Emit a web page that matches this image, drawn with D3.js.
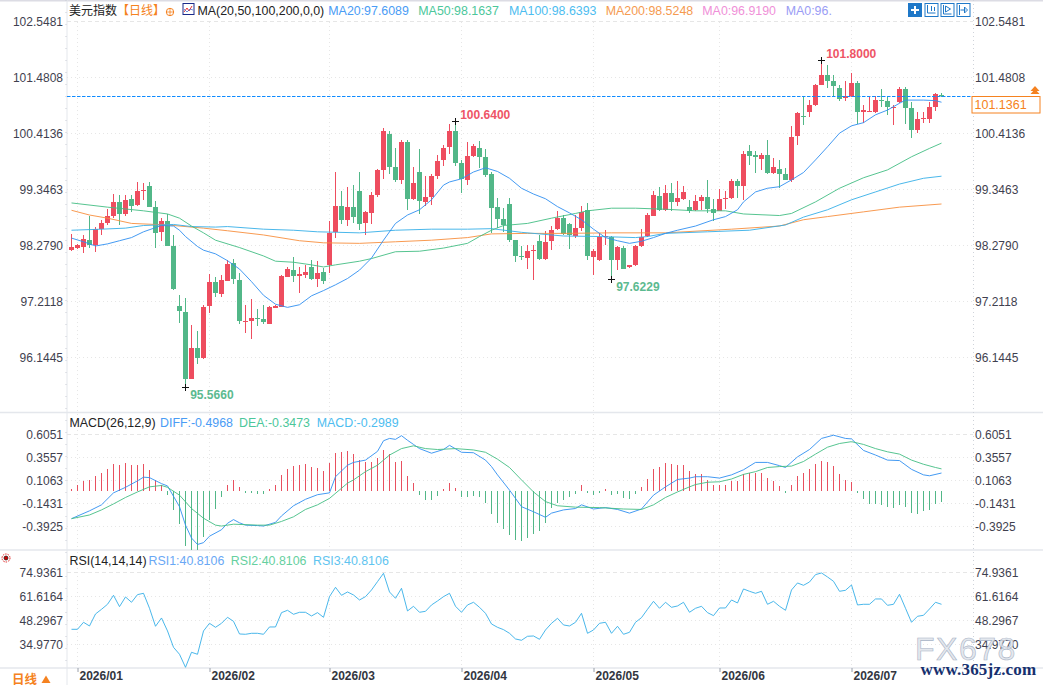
<!DOCTYPE html>
<html>
<head>
<meta charset="utf-8">
<script src="https://cdn.jsdelivr.net/npm/d3@7"></script>
<style>
  html, body { margin: 0; padding: 0; background: #fff; }
  svg { display: block; font-family: "Liberation Sans", "Noto Sans CJK SC", sans-serif; }
  .tick text { font-family: "Liberation Sans", sans-serif; font-size: 12px; fill: #3f3f4f; }
  .axis path.domain { display: none; }
</style>
</head>
<body>
<div id="chart"></div>
<script>
// Daily candles, one entry per trading day.
const highs = [
  98.50,98.30,98.48,98.85,98.63,98.77,98.97,99.26,99.24,99.24,
  99.24,99.49,99.47,99.49,99.13,98.80,98.88,98.48,97.34,97.28,
  96.76,96.65,97.15,97.74,97.68,97.72,98.00,98.02,97.75,97.15,
  97.26,97.07,97.15,97.13,97.15,97.72,97.87,98.06,97.87,97.91,
  98.00,97.98,97.85,98.75,99.68,99.32,99.39,99.43,99.68,98.94,
  99.30,99.74,100.52,100.46,100.14,100.29,100.29,99.78,100.12,99.60,
  99.64,100.00,100.19,100.59,100.64,99.91,100.25,100.21,100.27,100.12,
  99.68,99.18,98.99,99.18,98.38,98.27,98.29,98.29,98.48,98.55,
  98.65,98.94,98.86,98.71,98.86,99.03,99.09,98.21,98.52,98.57,
  98.46,98.27,98.27,97.91,98.29,98.59,98.90,99.32,99.39,99.43,
  99.47,99.51,99.41,99.15,99.24,99.24,99.53,99.17,99.36,99.32,
  99.55,99.55,100.08,100.19,100.08,100.04,100.29,99.95,99.91,99.76,
  100.56,100.82,101.13,101.05,101.36,101.80,101.72,101.53,101.34,101.41,
  101.57,101.41,100.96,101.13,101.13,101.26,101.11,100.96,101.30,101.30,
  101.01,100.82,100.82,101.01,101.19,101.19
];
const lows = [
  98.17,98.22,98.14,98.24,98.16,98.48,98.67,98.80,98.67,98.84,
  98.92,99.03,99.15,99.01,98.24,98.37,98.26,97.43,96.81,95.566,
  95.73,96.03,96.12,96.99,97.30,97.30,97.60,97.54,96.78,96.61,
  96.50,96.74,96.78,96.78,97.09,97.11,97.68,97.58,97.37,97.66,
  97.62,97.49,97.54,97.75,98.42,98.69,98.65,98.71,98.57,98.48,
  98.69,99.20,99.55,99.64,99.49,99.45,98.96,99.15,98.88,99.03,
  99.05,99.55,99.79,100.02,99.79,99.28,99.43,99.96,99.76,99.59,
  98.52,98.61,98.54,98.35,97.96,98.00,97.83,97.62,98.00,98.00,
  98.19,98.57,98.48,98.21,98.42,98.56,98.00,97.72,97.98,98.29,
  97.6229,97.81,97.83,97.85,97.89,98.25,98.44,98.84,98.94,98.94,
  98.94,99.03,99.15,98.90,98.94,98.96,98.90,98.75,98.94,98.98,
  99.17,99.18,99.15,99.81,99.66,99.72,99.64,99.64,99.37,99.53,
  99.49,100.19,100.58,100.73,100.94,101.34,101.28,101.11,101.03,101.03,
  101.11,100.59,100.61,100.82,100.80,100.92,100.77,100.58,100.99,100.59,
  100.33,100.42,100.61,100.61,100.84,101.11
];
const opens = [
  98.19,98.23,98.25,98.38,98.29,98.59,98.71,98.84,99.11,98.88,
  99.17,99.05,99.33,99.41,99.01,98.54,98.75,98.27,97.13,97.01,
  95.73,96.33,96.14,97.13,97.58,97.36,97.60,97.95,97.62,96.82,
  96.84,96.90,96.88,96.78,97.09,97.11,97.68,97.81,97.70,97.72,
  97.87,97.64,97.77,97.91,98.54,99.03,98.77,99.01,99.32,98.71,
  98.90,99.24,99.72,100.40,99.78,99.53,100.25,99.17,99.68,99.11,
  99.20,99.60,99.91,100.16,100.46,99.85,99.53,99.98,100.14,99.96,
  99.64,99.01,98.78,99.07,98.38,98.08,98.04,98.17,98.36,98.02,
  98.36,98.59,98.80,98.69,98.46,98.61,98.96,98.06,98.00,98.44,
  98.44,98.00,98.23,97.87,97.91,98.27,98.46,98.84,99.22,98.96,
  99.28,99.11,99.17,99.01,98.96,99.13,99.20,98.98,98.94,99.17,
  99.18,99.51,99.41,100.08,100.00,99.93,100.00,99.66,99.74,99.64,
  99.53,100.37,100.75,100.82,100.96,101.34,101.53,101.41,101.28,101.09,
  101.13,101.38,100.82,100.82,100.82,101.05,101.03,100.90,101.01,101.26,
  100.90,100.48,100.69,100.69,100.92,101.15
];
const closes = [
  98.25,98.29,98.40,98.29,98.59,98.71,98.84,99.11,98.88,99.15,
  99.03,99.32,99.34,99.02,98.52,98.75,98.26,97.45,97.04,95.73,
  96.33,96.14,97.11,97.58,97.38,97.62,97.93,97.64,96.84,96.84,
  96.90,96.88,96.82,97.11,97.13,97.70,97.83,97.70,97.74,97.77,
  97.64,97.75,97.60,98.52,99.03,98.77,99.01,98.82,98.69,98.92,
  99.24,99.72,100.46,99.78,99.53,100.25,99.17,99.47,99.13,99.20,
  99.60,99.89,100.14,100.46,99.85,99.55,99.98,100.17,99.96,99.62,
  98.99,98.78,98.67,98.38,98.08,98.06,98.17,98.19,98.02,98.35,
  98.57,98.80,98.50,98.48,98.61,98.92,98.08,98.17,98.44,98.46,
  98.00,98.25,97.83,97.91,98.27,98.44,98.86,99.24,98.96,99.28,
  99.11,99.18,99.30,98.94,99.13,99.20,98.98,98.90,99.17,99.18,
  99.51,99.41,100.02,99.98,99.96,100.00,99.66,99.78,99.64,99.53,
  100.35,100.80,100.73,100.96,101.34,101.53,101.41,101.32,101.07,101.13,
  101.38,100.82,100.86,100.84,101.05,101.03,100.92,100.92,101.26,100.90,
  100.48,100.69,100.71,100.92,101.17,101.13
];

const ma20Days = [0,2,4,6,8,10,12,14,15,17,18,19,21,22,24,26,28,30,32,34,36,38,40,42,44,46,48,50,52,54,56,58,60,62,63,65,67,69,71,73,75,77,79,81,83,85,87,89,91,93,95,97,99,101,104,107,109,111,112,114,116,118,120,122,124,126,128,130,132,134,136,138,139,142,144,145];
const ma20 = [98.42,98.35,98.27,98.31,98.37,98.43,98.54,98.62,98.66,98.65,98.57,98.45,98.26,98.19,98.12,97.99,97.83,97.59,97.33,97.16,97.10,97.15,97.32,97.42,97.53,97.65,97.81,98.04,98.38,98.70,98.86,98.96,99.15,99.43,99.49,99.55,99.68,99.76,99.69,99.56,99.37,99.26,99.17,99.02,98.90,98.77,98.59,98.43,98.37,98.32,98.36,98.43,98.51,98.57,98.65,98.77,98.83,98.96,99.11,99.30,99.37,99.40,99.53,99.67,99.91,100.16,100.42,100.56,100.62,100.77,100.86,100.99,101.05,101.05,101.04,101.01];
const ma50Days = [0,6,12,16,18,20,22,24,28,32,34,37,40,42,44,48,50,54,58,62,66,68,70,72,76,80,84,86,90,94,99,104,109,112,118,120,124,128,132,136,140,143,145];
const ma50 = [99.09,99.01,98.94,98.88,98.80,98.65,98.52,98.38,98.24,98.08,97.98,97.96,97.91,97.87,97.91,97.98,98.03,98.16,98.17,98.23,98.32,98.45,98.57,98.66,98.70,98.80,98.89,98.94,98.99,98.99,98.97,98.94,98.94,98.88,98.85,98.89,99.11,99.37,99.57,99.72,99.97,100.13,100.23];
const ma100Days = [0,5,9,12,17,20,24,26,32,37,41,48,54,60,66,70,75,82,88,94,96,99,106,113,119,122,126,130,134,138,142,145];
const ma100 = [98.57,98.59,98.61,98.66,98.68,98.64,98.63,98.64,98.59,98.57,98.54,98.52,98.57,98.59,98.59,98.60,98.53,98.46,98.45,98.43,98.45,98.51,98.54,98.57,98.67,98.82,98.96,99.15,99.30,99.45,99.56,99.60];
const ma200Days = [0,3,6,10,16,22,26,32,38,42,48,54,60,66,70,76,82,90,99,110,118,122,126,132,138,145];
const ma200 = [98.95,98.86,98.80,98.70,98.67,98.61,98.56,98.48,98.37,98.33,98.32,98.35,98.38,98.43,98.50,98.51,98.51,98.52,98.52,98.59,98.65,98.77,98.83,98.92,99.01,99.07];

// MACD panel
const macdHist = [
  .02,.06,.11,.12,.16,.20,.235,.29,.28,.30,
  .28,.285,.29,.225,.115,.07,-.04,-.21,-.36,-.60,
  -.64,-.64,-.50,-.315,-.195,-.07,.07,.115,.04,-.02,
  -.025,-.03,-.03,.025,.06,.17,.24,.27,.28,.29,
  .26,.245,.215,.30,.41,.42,.43,.40,.335,.315,
  .31,.355,.45,.40,.315,.325,.165,.085,-.04,-.10,
  -.10,-.05,.02,.085,.03,-.07,-.07,-.05,-.07,-.13,
  -.25,-.35,-.41,-.475,-.53,-.54,-.51,-.465,-.435,-.35,
  -.185,-.13,-.10,-.065,-.03,.06,-.02,-.04,-.02,.02,
  -.04,-.03,-.075,-.085,-.03,.04,.125,.235,.255,.30,
  .29,.28,.28,.215,.18,.18,.115,.07,.07,.06,
  .105,.105,.18,.20,.20,.19,.14,.105,.05,-.02,
  .07,.16,.20,.235,.29,.32,.31,.27,.18,.115,
  .095,-.02,-.085,-.14,-.14,-.15,-.175,-.185,-.15,-.175,
  -.24,-.25,-.215,-.205,-.14,-.12
];
const diffDays = [0,3,5,7,9,11,12,13,15,16,18,19,20,21,22,23,25,26,27,28,29,31,32,34,35,37,39,41,43,44,46,47,49,51,52,53,54,55,56,57,58,60,62,63,65,67,69,70,71,73,75,77,79,80,82,84,85,87,89,91,93,95,97,99,101,103,104,106,108,110,112,114,116,118,119,121,123,125,127,129,130,132,134,136,138,140,142,143,145];
const diffLine = [-.30,-.215,-.15,-.02,.04,.11,.15,.145,.08,.055,-.17,-.37,-.51,-.58,-.56,-.49,-.42,-.35,-.31,-.345,-.37,-.375,-.38,-.34,-.27,-.16,-.09,-.04,-.02,.155,.28,.31,.335,.43,.545,.57,.56,.60,.55,.505,.46,.41,.45,.495,.42,.415,.335,.265,.175,.01,-.17,-.225,-.285,-.24,-.205,-.19,-.15,-.195,-.18,-.20,-.24,-.195,-.045,.045,.125,.14,.155,.155,.14,.175,.23,.31,.31,.275,.255,.37,.45,.57,.605,.57,.565,.44,.39,.335,.33,.235,.175,.165,.195];
const deaDays = [0,3,5,7,9,11,13,15,16,18,20,22,24,25,27,31,33,35,37,39,41,43,45,46,47,49,51,53,55,57,59,61,64,67,69,71,73,75,77,79,81,84,88,92,95,97,99,101,103,104,106,108,110,112,114,116,118,120,122,124,126,128,130,132,134,136,138,140,142,144,145];
const deaLine = [-.30,-.26,-.205,-.14,-.07,-.01,.045,.06,.04,-.045,-.19,-.295,-.37,-.38,-.36,-.37,-.37,-.33,-.28,-.20,-.15,-.08,.03,.085,.12,.21,.28,.39,.46,.49,.46,.45,.46,.445,.42,.345,.255,.12,-.01,-.115,-.16,-.175,-.18,-.195,-.20,-.15,-.07,-.01,.045,.07,.095,.10,.13,.18,.21,.255,.265,.27,.32,.40,.475,.515,.535,.505,.46,.425,.40,.335,.29,.255,.24];

// RSI panel
const rsiLine = [
  43.30,43.30,47.19,45.15,51.81,54.40,57.18,62.17,55.88,61.25,
  58.29,62.54,63.28,54.96,44.97,49.59,42.38,33.31,29.43,22.21,
  30.54,29.43,42.38,46.63,44.41,46.63,49.96,47.74,40.71,40.53,
  41.08,41.08,40.53,44.60,44.60,52.55,53.85,51.63,52.74,52.74,
  50.70,52.55,49.96,61.43,66.61,62.17,64.02,62.36,59.58,61.43,
  65.13,69.76,74.38,64.02,60.51,66.06,53.48,56.07,52.74,53.29,
  56.81,59.03,61.43,63.28,56.07,52.74,56.81,58.29,55.51,52.18,
  46.26,44.41,43.12,41.08,37.94,37.20,39.42,39.60,37.75,42.93,
  46.63,49.41,45.71,45.15,47.19,52.18,41.08,42.93,46.63,47.19,
  41.08,44.97,40.53,41.64,47.19,49.78,54.40,58.84,54.96,58.29,
  55.51,56.25,58.29,52.74,54.96,56.07,52.55,50.89,55.14,55.14,
  59.58,57.92,65.69,64.39,63.28,64.39,57.18,58.84,56.07,53.85,
  65.13,69.02,67.72,69.57,73.64,74.57,72.35,69.94,64.39,64.95,
  67.91,56.81,57.18,57.18,60.14,60.14,56.62,57.18,62.73,54.96,
  47.19,50.52,51.07,54.59,58.29,57.18
];

const lastPrice = 101.1361;
const priceTicks = [102.5481, 101.4808, 100.4136, 99.3463, 98.2790, 97.2118, 96.1445];
const macdTicks = [0.6051, 0.3557, 0.1063, -0.1431, -0.3925];
const rsiTicks = [74.9361, 61.6164, 48.2967, 34.9770];
const monthDays = [1, 23, 43, 65, 87, 108, 130];
const monthLabels = ["2026/01", "2026/02", "2026/03", "2026/04", "2026/05", "2026/06", "2026/07"];

// Highest / lowest marks
const extremeDays = [125, 64, 19, 90];
const extremeValues = [101.8, 100.64, 95.566, 97.6229];

const up = "#ee4d5f", down = "#52b788";
const colMa20 = "#2f8ff0", colMa50 = "#43bd83", colMa100 = "#35afe8", colMa200 = "#f78e3d";

const width = 1043, height = 685;
const plotLeft = 67, plotRight = 973;

const svg = d3.select("#chart").append("svg")
  .attr("width", width).attr("height", height);

// scales
const x = d3.scaleLinear().domain([0, 145]).range([71.5, 941.5]);
const yPrice = d3.scaleLinear().domain([102.5481, 96.1445]).range([21.5, 357.5]);
const yMacd = d3.scaleLinear().domain([0.6051, -0.3925]).range([435.2, 527.2]);
const macdGridShift = -0.9;
const yRsi = d3.scaleLinear().domain([74.9361, 34.977]).range([572.3, 644.3]);

// frame
const frameColor = "#e4e7ec";
svg.append("rect").attr("x", 0).attr("y", 0).attr("width", width).attr("height", 1.5).attr("fill", "#dcdce4");
[412.5, 550, 668].forEach(y => {
  svg.append("line").attr("x1", 0).attr("x2", width).attr("y1", y).attr("y2", y)
    .attr("stroke", frameColor).attr("stroke-width", 1.5);
});
svg.append("line").attr("x1", plotLeft).attr("x2", plotLeft).attr("y1", 0).attr("y2", height)
  .attr("stroke", frameColor);
svg.append("line").attr("x1", plotLeft - 1).attr("x2", plotLeft - 1).attr("y1", 0).attr("y2", 668)
  .attr("stroke", "#c8ccd4").attr("stroke-dasharray", "1 11");
svg.append("line").attr("x1", plotRight + .5).attr("x2", plotRight + .5).attr("y1", 0).attr("y2", 668)
  .attr("stroke", "#cfd3da").attr("stroke-dasharray", "1 3");

// grids
const grid = svg.append("g").attr("stroke", "#e6e6e6").attr("stroke-dasharray", "1 3").attr("shape-rendering", "crispEdges");
function hGrid(values, scale, shift) {
  values.forEach((v, i) => {
    grid.append("line").attr("x1", plotLeft).attr("x2", plotRight)
      .attr("y1", scale(v) + shift).attr("y2", scale(v) + shift)
      .attr("stroke-dasharray", i === 0 ? "4 3" : "1 3");
  });
}
hGrid(priceTicks, yPrice, 0);
hGrid(macdTicks, yMacd, macdGridShift);
hGrid(rsiTicks, yRsi, 0);
monthDays.forEach(d => {
  [[22, 412], [414, 550], [552, 668]].forEach(r => {
    grid.append("line").attr("x1", x(d)).attr("x2", x(d)).attr("y1", r[0]).attr("y2", r[1]);
  });
});

// axes
function leftRight(scale, ticks, shift) {
  svg.append("g").attr("class", "axis").attr("transform", `translate(${plotLeft - 1},${shift})`)
    .call(d3.axisLeft(scale).tickValues(ticks).tickFormat(d => d.toFixed(4)).tickSize(0).tickPadding(3));
  svg.append("g").attr("class", "axis").attr("transform", `translate(${plotRight},${shift})`)
    .call(d3.axisRight(scale).tickValues(ticks).tickFormat(d => d.toFixed(4)).tickSize(0).tickPadding(2));
}
leftRight(yPrice, priceTicks, 0);
leftRight(yMacd, macdTicks, macdGridShift);
leftRight(yRsi, rsiTicks, 0);

const xAxis = svg.append("g").attr("class", "axis").attr("transform", "translate(0,668)")
  .call(d3.axisBottom(x).tickValues(monthDays).tickFormat((d, i) => monthLabels[i]).tickSize(4));
xAxis.selectAll(".tick line").attr("stroke", "#9aa0aa");
xAxis.selectAll(".tick text")
  .attr("text-anchor", "start").attr("dx", 1.5).attr("y", 3).attr("dy", "0.71em")
  .style("font-weight", "bold").style("fill", "#33363f");

// candles
const days = d3.range(highs.length);
const candles = svg.append("g").attr("shape-rendering", "crispEdges");
candles.selectAll("line").data(days).join("line")
  .attr("x1", d => x(d)).attr("x2", d => x(d))
  .attr("y1", d => yPrice(highs[d])).attr("y2", d => yPrice(lows[d]))
  .attr("stroke", d => closes[d] >= opens[d] ? up : down);
candles.selectAll("rect").data(days).join("rect")
  .attr("x", d => x(d) - 2.5).attr("width", 5)
  .attr("y", d => yPrice(Math.max(opens[d], closes[d])))
  .attr("height", d => Math.max(1, Math.abs(yPrice(opens[d]) - yPrice(closes[d]))))
  .attr("fill", d => closes[d] >= opens[d] ? up : down);

// line helper, shared by the moving averages and the indicators
function drawLine(dayList, values, scale, color) {
  const line = d3.line().x((d, i) => x(dayList[i])).y(d => scale(d));
  svg.append("path").datum(values).attr("d", line)
    .attr("fill", "none").attr("stroke", color).attr("stroke-width", .9);
}
drawLine(ma200Days, ma200, yPrice, colMa200);
drawLine(ma100Days, ma100, yPrice, colMa100);
drawLine(ma50Days, ma50, yPrice, colMa50);
drawLine(ma20Days, ma20, yPrice, colMa20);

// last price
svg.append("line").attr("x1", plotLeft).attr("x2", plotRight)
  .attr("y1", 96.5).attr("y2", 96.5)
  .attr("stroke", "#0f8bff").attr("stroke-dasharray", "3.5 1.5");
svg.append("rect").attr("x", 972).attr("y", 96.5).attr("width", 68).attr("height", 16.5)
  .attr("fill", "#fff").attr("stroke", "#f58220").attr("stroke-width", 1);
svg.append("text").attr("x", 974.5).attr("y", 109).text(lastPrice.toFixed(4))
  .attr("font-size", 12.5).attr("fill", "#f58220");
[89, 92].forEach(t => {
  svg.append("path").attr("d", `M1035 ${t - 3}l4.5 5h-9z`).attr("fill", "#f58220");
});

// extreme marks
const extremeGroup = svg.append("g");
extremeDays.forEach((d, i) => {
  const px = x(d), py = yPrice(extremeValues[i]);
  extremeGroup.append("path").attr("d", `M${px - 3.5} ${py}H${px + 3.5}M${px} ${py - 3.5}V${py + 3.5}`)
    .attr("stroke", "#111").attr("shape-rendering", "crispEdges");
  const isHigh = i < 2;
  extremeGroup.append("text")
    .attr("x", px + 4.7)
    .attr("y", isHigh ? py - 3 : py + 11.5)
    .text(extremeValues[i].toFixed(4))
    .attr("font-size", 12).attr("font-weight", "bold")
    .attr("fill", isHigh ? "#ee5566" : "#5cba90");
});

// MACD
svg.append("g").attr("shape-rendering", "crispEdges")
  .selectAll("line").data(days).join("line")
  .attr("x1", d => x(d)).attr("x2", d => x(d))
  .attr("y1", yMacd(0)).attr("y2", d => yMacd(macdHist[d]))
  .attr("stroke", d => macdHist[d] >= 0 ? "#e8505f" : down);
drawLine(diffDays, diffLine, yMacd, colMa20);
drawLine(deaDays, deaLine, yMacd, colMa50);

// RSI
drawLine(days, rsiLine, yRsi, "#35afe8");

// header rows
function label(xPos, yPos, str, color, size) {
  return svg.append("text").attr("x", xPos).attr("y", yPos).text(str)
    .attr("font-size", size || 12.4).attr("fill", color);
}
label(69, 15, "美元指数", "#222", 12);
label(117, 15, "【日线】", "#f58220", 12);
svg.append("circle").attr("cx", 170).attr("cy", 12).attr("r", 3.7).attr("fill", "none").attr("stroke", "#f58220");
svg.append("path").attr("d", "M166 12h8M170 8v8").attr("stroke", "#f58220").attr("stroke-width", .8);
svg.append("rect").attr("x", 183).attr("y", 3.5).attr("width", 11).attr("height", 11).attr("fill", "#fff").attr("stroke", "#1a2a8a");
svg.append("path").attr("d", "M184 12l3-4 2 3 3-5").attr("fill", "none").attr("stroke", "#e33");
svg.append("path").attr("d", "M184 9l3 3 3-3 3 1").attr("fill", "none").attr("stroke", "#36c").attr("stroke-width", .7);
label(197.5, 15, "MA(20,50,100,200,0,0)", "#222");
label(328.3, 15, "MA20:97.6089", "#4a9cf5");
label(418.3, 15, "MA50:98.1637", "#4cc79b");
label(509, 15, "MA100:98.6393", "#4dbdf0");
label(605.7, 15, "MA200:98.5248", "#f59a50");
label(702.3, 15, "MA0:96.9190", "#f090d8");
label(785.7, 15, "MA0:96.", "#9a9cf5");

label(69.5, 426.5, "MACD(26,12,9)", "#222");
label(160, 426.5, "DIFF:-0.4968", "#4a9cf5");
label(239, 426.5, "DEA:-0.3473", "#4cc79b");
label(316.7, 426.5, "MACD:-0.2989", "#4dbdf0");

label(69.5, 565, "RSI(14,14,14)", "#222");
label(148.5, 565, "RSI1:40.8106", "#6aa8f5");
label(230.7, 565, "RSI2:40.8106", "#66d0a0");
label(313, 565, "RSI3:40.8106", "#60c4f0");

// settings marker at the top of the RSI panel
svg.append("circle").attr("cx", 6).attr("cy", 558).attr("r", 4).attr("fill", "#fff").attr("stroke", "#e02020").attr("stroke-dasharray", "1.5 1");
svg.append("circle").attr("cx", 6).attr("cy", 558).attr("r", 2).attr("fill", "#c00").attr("stroke", "#111").attr("stroke-width", .7);

// period switch, bottom left
label(12, 683.5, "日线", "#f58220", 12.5).attr("font-weight", "bold");
svg.append("path").attr("d", "M46 675.5l4.5 7.5h-9z").attr("fill", "#f58220");

// toolbar, top right
[908, 924.5, 940.5, 956.5].forEach((bx, i) => {
  const b = svg.append("g").attr("transform", `translate(${bx},3)`);
  b.append("rect").attr("x", .5).attr("y", .5).attr("width", 13).attr("height", 13)
    .attr("fill", i === 0 ? "#1f78c8" : "#fff").attr("stroke", "#1f78c8");
  if (i === 0) {
    b.append("path").attr("d", "M7 3v8M3 7h8").attr("stroke", "#fff").attr("stroke-width", 2);
  } else if (i === 1) {
    b.append("path").attr("d", "M3 2v8h8M7 3v5M10 4v4").attr("fill", "none").attr("stroke", "#1f78c8");
  } else if (i === 2) {
    b.append("path").attr("d", "M3 2v9h8M5 3l5 3-5 3z").attr("fill", "none").attr("stroke", "#1f78c8");
  } else {
    b.append("path").attr("d", "M3 2v10M4 7h5M8 4l3 3-3 3z").attr("fill", "none").attr("stroke", "#1f78c8");
  }
});

// watermark
svg.append("text").attr("x", 915).attr("y", 660).text("FX678")
  .attr("font-size", 32).attr("letter-spacing", 1.5)
  .attr("fill", "#dfe4ec").attr("fill-opacity", .85).attr("stroke", "#a9b4c6").attr("stroke-width", .6)
  .attr("font-family", "Liberation Sans");
svg.append("text").attr("x", 920.5).attr("y", 675).text("www.365jz.com")
  .attr("font-size", 17).attr("font-weight", "bold").attr("letter-spacing", .2)
  .attr("fill", "#16306e").attr("font-family", "Liberation Serif");
</script>
</body>
</html>
